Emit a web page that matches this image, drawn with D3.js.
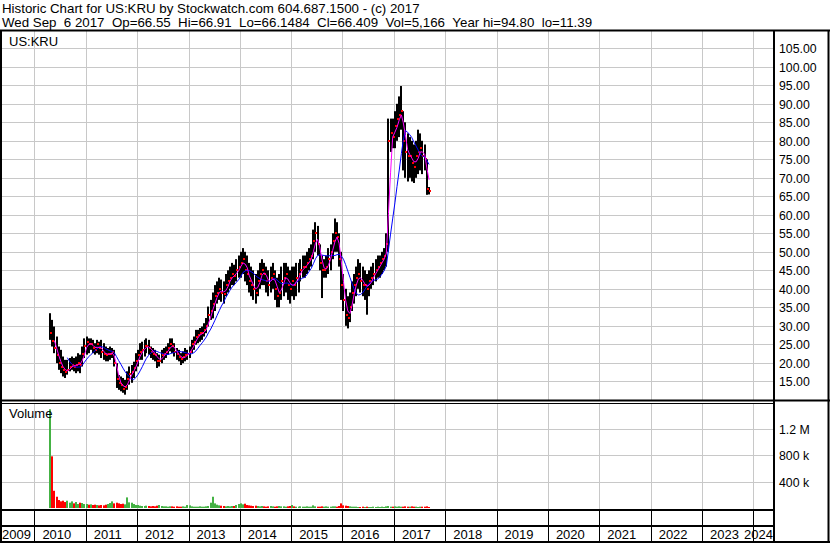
<!DOCTYPE html>
<html>
<head>
<meta charset="utf-8">
<script src="https://cdnjs.cloudflare.com/ajax/libs/d3/7.8.5/d3.min.js"></script>
<style>
body { margin: 0; background: #fff; }
text { font-family: "Liberation Sans", Arial, sans-serif; fill: #000; white-space: pre; }
</style>
</head>
<body>
<div id="chart"></div>
<script>
// half-month slots, first one starts 2010-04-16
var firstSlot = "2010-04-16";

var hi = [
  33.4, 31.6, 29.8, 27.1, 24.4, 23.5, 21.7, 20.8, 20.8, 21.3, 21.7, 21.3, 21.7, 22.6, 22.2, 24.4, 26.6,
  27.1, 26.6, 26.6, 26.2, 25.3, 26.2, 25.7, 26.2, 25.3, 24.4, 24.0, 24.4, 24.0, 23.5, 19.9, 16.7, 16.3, 15.9, 15.4, 17.7, 19.0, 19.4, 20.3, 22.6,
  23.5, 25.3, 25.7, 26.2, 26.6, 26.2, 24.4, 24.0, 23.5, 22.6, 22.2, 23.5, 24.0, 24.4, 25.3, 26.6, 26.6, 25.3, 24.0, 23.5, 22.6, 23.1, 24.0, 23.5,
  24.4, 26.2, 27.1, 28.9, 28.9, 29.4, 29.8, 30.7, 32.1, 35.2, 37, 39, 41, 42, 43, 42.5, 42, 44, 45, 46, 47, 46.5, 48, 49,
  50, 51, 50, 49, 47, 46, 45, 44, 45, 47, 48, 47, 46, 45, 46, 47, 45, 43, 44, 46, 47, 47, 46, 45,
  46, 46, 47, 47, 48, 49, 49, 50, 51, 52, 56, 58, 57, 52, 49, 48, 49, 51, 52, 55, 59, 58, 55, 50,
  44, 40, 38, 39, 42, 44, 46, 48, 47, 46, 45, 44, 45, 46, 47, 48, 49, 49, 50, 51, 55, 86, 86, 86,
  88, 90, 92, 94.8, 88, 85, 82, 81, 80, 79, 80, 83, 82, 80, 79, 75, 67.5
];
var lo = [
  26.2, 24.4, 22.6, 19.9, 18.1, 17.2, 16.3, 15.9, 16.8, 17.7, 18.1, 17.7, 17.2, 17.7, 17.2, 19.0, 21.3,
  22.2, 22.6, 23.5, 22.6, 22.2, 22.6, 22.2, 21.3, 20.8, 20.4, 20.4, 20.8, 21.3, 19.0, 13.2, 12.7, 12.3, 11.9, 11.39, 12.7, 14.1, 14.6, 15.9, 17.7,
  19.0, 20.8, 20.8, 21.7, 22.6, 22.2, 21.3, 20.8, 20.4, 18.6, 19.0, 19.9, 20.8, 21.3, 22.2, 23.1, 22.6, 21.7, 20.8, 20.4, 19.4, 19.9, 20.4, 20.8,
  21.3, 22.6, 23.5, 24.9, 25.3, 25.7, 26.2, 27.1, 28, 29.8, 31.6, 32, 34, 36, 37, 36.5, 36, 38, 39, 40, 41, 41, 42, 43,
  43, 44, 42, 41, 39, 38, 37, 36, 38, 40, 41, 41, 39, 38, 39, 40, 37, 35, 35, 37, 38, 39, 37, 36,
  38, 37, 38, 39, 42, 43, 43, 44, 45, 46, 48, 50, 49, 45, 37.5, 43, 43, 44, 45, 48, 50, 50, 46, 37,
  34, 30, 29.3, 31, 34, 36, 38, 40, 39, 38, 37, 33, 38, 40, 41, 42, 43, 43, 44, 45, 46, 50, 77, 78,
  78, 80, 81, 83, 72, 70, 69, 70, 69, 68.6, 70, 71, 72, 71, 72, 65.4, 65.5
];
var cl = [
  28, 26, 24, 22, 20, 19, 18, 17.5, 18, 19, 19.5, 19, 19.5, 20, 19.5, 22.5, 24.5,
  25.5, 25, 25, 24, 23.5, 25, 24, 23, 22.5, 22, 22.5, 22.5, 23, 20, 15.5, 14.5, 14, 13, 13.5, 15.5, 17, 17.5, 18.5, 20.5,
  22, 23, 23.5, 24.5, 24.5, 24, 23, 22.5, 22, 20.5, 20.5, 22, 22.5, 23, 24, 25, 24.5, 23, 22.5, 21.5, 21, 21.5, 22, 22.5,
  23, 25, 25.5, 27, 27.5, 28, 28, 29, 30, 33, 34, 36, 38, 39, 40, 39, 38.5, 41, 42, 43, 44, 43.5, 45, 46,
  47, 48, 45, 44, 42, 41, 40, 39, 42, 44, 45, 44, 42, 41, 43, 44, 40, 38, 39, 42, 43, 44, 41, 40,
  42, 41, 43, 44, 45, 46, 46, 47, 48, 49, 53, 55, 52, 47, 45, 45, 46, 48, 50, 53, 55, 54, 48, 41,
  37, 33, 32, 35, 39, 41, 43, 44, 42, 41, 41, 40, 42, 43, 44, 45, 46, 47, 48, 49, 52, 80, 82, 81,
  84, 86, 87, 88, 80, 77, 76, 76, 74, 73, 76, 77, 78, 76, 75, 67, 66.4
];
// volume in thousands of shares
var vol = [
  1490, 780, 260, 170, 120, 100, 110, 90, 110, 80, 100, 70, 90, 60, 80, 75, 60,
  60, 50, 55, 45, 50, 45, 40, 45, 40, 50, 60, 75, 100, 70, 80, 70, 60, 65, 55, 160, 85, 80, 60, 45,
  45, 35, 30, 30, 35, 30, 25, 30, 25, 35, 45, 30, 25, 25, 20, 25, 25, 20, 25, 20, 20, 25, 20, 45,
  40, 25, 20, 20, 20, 25, 20, 20, 25, 30, 80, 170, 70, 50, 40, 35, 30, 25, 30, 25, 30, 30, 45, 60,
  70, 55, 65, 45, 40, 35, 30, 35, 30, 25, 30, 25, 20, 25, 30, 25, 20, 25, 30, 25, 25, 20, 25, 30,
  45, 25, 20, 20, 25, 20, 20, 25, 20, 20, 40, 25, 20, 20, 25, 20, 25, 20, 20, 25, 25, 20, 30, 70,
  40, 35, 30, 25, 20, 20, 20, 15, 15, 20, 15, 20, 15, 15, 20, 15, 20, 15, 20, 15, 25, 30, 20, 20,
  25, 20, 25, 20, 20, 25, 20, 20, 25, 20, 20, 15, 20, 20, 20, 25, 15
];

var priceTicks = [15, 20, 25, 30, 35, 40, 45, 50, 55, 60, 65, 70, 75, 80, 85, 90, 95, 100, 105];
var volTicks = [400, 800, 1200];
var volTickLabels = ["400 k", "800 k", "1.2 M"];
var years = [2009, 2010, 2011, 2012, 2013, 2014, 2015, 2016, 2017, 2018, 2019, 2020, 2021, 2022, 2023, 2024];

var titleLine1 = "Historic Chart for US:KRU by Stockwatch.com 604.687.1500 - (c) 2017";
// fields of the second header line, separated by two spaces
var titleFields = ["Wed Sep \u00a06 2017", "Op=66.55", "Hi=66.91", "Lo=66.1484", "Cl=66.409", "Vol=5,166", "Year hi=94.80", "lo=11.39"];

var width = 830, height = 543;
var plotRight = 774;
var priceTop = 31, priceBottom = 400;
var volTop = 403, volBottom = 509;
var gridColor = "#c8c8c8";

/* dates of the half-month slots */
var t0 = d3.timeParse("%Y-%m-%d")(firstSlot);
var dates = hi.map(function(d, i) {
  var m = d3.timeMonth.offset(new Date(t0.getFullYear(), t0.getMonth(), 1), Math.floor((i + 1) / 2));
  return (i + 1) % 2 ? new Date(m.getFullYear(), m.getMonth(), 16) : m;
});

/* Scales */
var x = d3.scaleTime()
  .domain([new Date(2010, 0, 1), new Date(2024, 0, 1)])
  .range([34.4, 753.3]);
var y = d3.scaleLinear().domain([15, 105]).range([381.3, 48.3]);
var yv = d3.scaleLinear().domain([0, 1200]).range([508, 428.5]);

var svg = d3.select("#chart").append("svg")
  .attr("width", width)
  .attr("height", height);

svg.append("rect").attr("width", width).attr("height", height).attr("fill", "#fff");

svg.append("defs").append("clipPath").attr("id", "pclip")
  .append("rect").attr("x", 2).attr("y", priceTop).attr("width", plotRight - 2).attr("height", priceBottom - priceTop);

/* Grid */
var grid = svg.append("g").attr("stroke", gridColor).attr("stroke-width", 1);
years.slice(1).forEach(function(yr) {
  var gx = Math.round(x(new Date(yr, 0, 1))) + 0.5;
  grid.append("line").attr("x1", gx).attr("x2", gx).attr("y1", priceTop).attr("y2", priceBottom);
  grid.append("line").attr("x1", gx).attr("x2", gx).attr("y1", volTop).attr("y2", volBottom);
});
priceTicks.forEach(function(t) {
  var gy = Math.round(y(t)) + 0.5;
  grid.append("line").attr("x1", 0).attr("x2", plotRight).attr("y1", gy).attr("y2", gy);
});
volTicks.forEach(function(t) {
  var gy = Math.round(yv(t)) + 0.5;
  grid.append("line").attr("x1", 0).attr("x2", plotRight).attr("y1", gy).attr("y2", gy);
});

/* Volume bars */
svg.append("g").selectAll("rect")
  .data(vol).enter()
  .append("rect")
  .attr("x", (d, i) => Math.round(x(dates[i])))
  .attr("width", 2)
  .attr("y", d => yv(d))
  .attr("height", d => yv(0) - yv(d))
  .attr("fill", (d, i) => (i === 0 || cl[i] >= cl[i - 1]) ? "#44b244" : "#ff0000");

/* Price bars */
var bars = svg.append("g").attr("clip-path", "url(#pclip)");
bars.selectAll(".hl")
  .data(hi).enter()
  .append("rect")
  .attr("class", "hl")
  .attr("x", (d, i) => Math.round(x(dates[i])))
  .attr("width", 2)
  .attr("y", (d, i) => y(hi[i]))
  .attr("height", (d, i) => y(lo[i]) - y(hi[i]))
  .attr("fill", "#000");
bars.selectAll(".cl")
  .data(cl).enter()
  .append("rect")
  .attr("class", "cl")
  .attr("x", (d, i) => Math.round(x(dates[i])) + 1)
  .attr("width", 2)
  .attr("y", d => Math.round(y(d)) - 1)
  .attr("height", 2)
  .attr("fill", "#ff0000");

/* Moving averages */
function movingAvg(n) {
  return cl.map(function(d, i) {
    return i < n - 1 ? null : d3.mean(cl.slice(i - n + 1, i + 1));
  });
}
var maLine = d3.line()
  .defined(d => d.v != null)
  .x(d => x(d.t) + 1)
  .y(d => y(d.v));
[[9, "#0000ff"], [3, "#ff00ff"]].forEach(function(m) {
  var vals = movingAvg(m[0]).map((v, i) => ({t: dates[i], v: v}));
  bars.append("path")
    .attr("d", maLine(vals))
    .attr("fill", "none")
    .attr("stroke", m[1])
    .attr("stroke-width", 1);
});

/* Frame */
var frame = svg.append("g").attr("stroke", "#000");
function hline(y0, x1, x2, w) {
  frame.append("line").attr("x1", x1).attr("x2", x2).attr("y1", y0).attr("y2", y0).attr("stroke-width", w);
}
function vline(x0, y1, y2, w) {
  frame.append("line").attr("x1", x0).attr("x2", x0).attr("y1", y1).attr("y2", y2).attr("stroke-width", w);
}
hline(30.5, 0, width, 2);
hline(400.5, 0, width, 2);
hline(403.5, 0, plotRight, 1);
hline(510, 0, plotRight, 2);
hline(526, 0, plotRight, 2);
hline(542, 0, width, 2);
vline(1, 30, height, 2);
vline(774, 30, height, 2);
vline(828.5, 30, height, 2);
years.slice(1).forEach(function(yr) {
  var gx = Math.round(x(new Date(yr, 0, 1))) + 0.5;
  vline(gx, 510, 542, 1);
});

/* Texts */
svg.append("text").attr("x", 2).attr("y", 12.5)
  .style("font-size", "13.3px").text(titleLine1);
svg.append("text").attr("x", 2).attr("y", 26.5)
  .style("font-size", "13.3px").text(titleFields.join("\u00a0\u00a0"));
svg.append("text").attr("x", 9).attr("y", 46).style("font-size", "13px").text("US:KRU");
svg.append("text").attr("x", 9).attr("y", 418).style("font-size", "13px").text("Volume");

svg.append("g").selectAll("text")
  .data(priceTicks).enter()
  .append("text")
  .attr("x", 779)
  .attr("y", d => Math.round(y(d)) + 4.5)
  .style("font-size", "12.3px")
  .text(d => d.toFixed(2));

svg.append("g").selectAll("text")
  .data(volTicks).enter()
  .append("text")
  .attr("x", 779)
  .attr("y", d => Math.round(yv(d)) + 5)
  .style("font-size", "12.3px")
  .text((d, i) => volTickLabels[i]);

svg.append("g").selectAll("text")
  .data(years).enter()
  .append("text")
  .attr("y", 539)
  .style("font-size", "13px")
  .text(d => d)
  .attr("x", function(d) {
    var w = this.getComputedTextLength();
    var lx = x(new Date(d, 0, 1)) + 8;
    return Math.max(2, Math.min(lx, plotRight - w - 1));
  });
</script>
</body>
</html>
